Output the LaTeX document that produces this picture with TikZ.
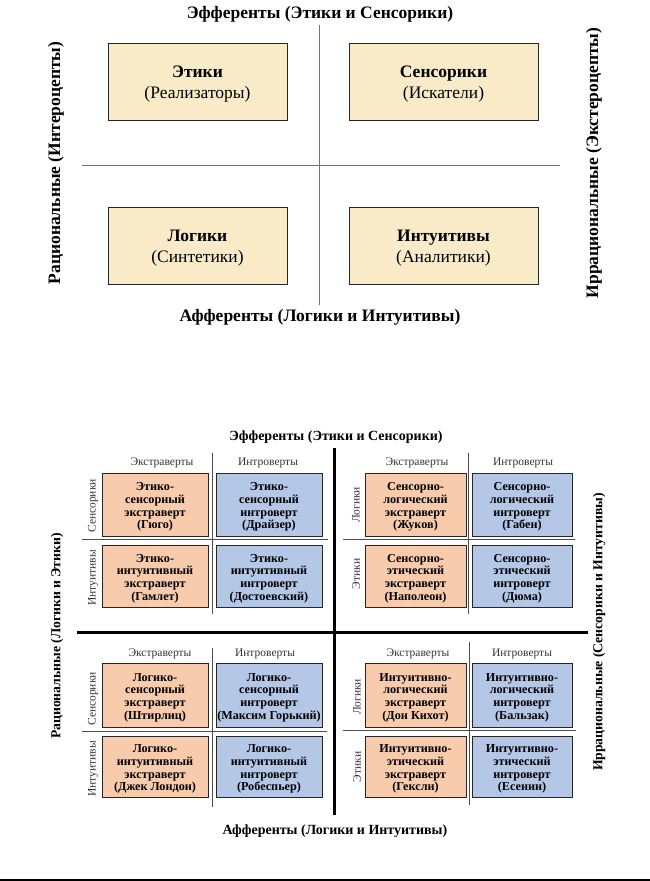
\documentclass[tikz,border=0pt]{standalone}
\usepackage{fontspec}
\setmainfont{Liberation Serif}
\definecolor{tan}{HTML}{FAEBC8}
\definecolor{ora}{HTML}{F8CBAD}
\definecolor{blu}{HTML}{B4C7E7}
\begin{document}
\begin{tikzpicture}[x=1pt,y=-1pt,
  bigbox/.style={draw=black!85,line width=0.8pt,fill=tan,minimum height=77pt,inner sep=0pt},
  bigtxt/.style={align=center,inner sep=0pt,yshift=-2.5pt,font=\fontsize{17.5}{21}\selectfont},
  bigtitle/.style={font=\bfseries\fontsize{17.5}{19}\selectfont,inner sep=0pt},
  tbox/.style={draw=black!85,line width=0.8pt,inner sep=0pt},
  obox/.style={tbox,fill=ora},
  bbox/.style={tbox,fill=blu},
  btxt/.style={align=center,inner sep=0pt,yshift=-2.5pt,font=\bfseries\fontsize{12.2}{12.8}\selectfont},
  hdr/.style={font=\fontsize{11.5}{12}\selectfont,text=black!80,inner sep=0pt},
  smtitle/.style={font=\bfseries\fontsize{14}{15}\selectfont,inner sep=0pt},
  sidetitle/.style={font=\bfseries\fontsize{13.7}{15}\selectfont,inner sep=0pt},
  thin/.style={draw=black!55,line width=0.8pt},
  thick/.style={draw=black,line width=2.4pt}]
\useasboundingbox (0,0) rectangle (650,881);
% ---------- top diagram ----------
\node[bigtitle] (t1) at (320,14) {Эфференты (Этики и Сенсорики)};
\node[bigtitle] (b1) at (320,317) {Афференты (Логики и Интуитивы)};
\node[bigtitle,rotate=90] (l1) at (56,163) {Рациональные (Интероцепты)};
\node[bigtitle,rotate=90] (r1) at (594,163) {Иррациональные (Экстероцепты)};
\coordinate (v1a) at (319,25); \coordinate (v1b) at (319,305);
\coordinate (h1a) at (82,165); \coordinate (h1b) at (560,165);
\draw[thin] (v1a) -- (v1b);
\draw[thin] (h1a) -- (h1b);
\node[bigbox,minimum width=179pt,label={[bigtxt]center:{\textbf{Этики}\\(Реализаторы)}}] (eth) at (197.5,81.5) {};
\node[bigbox,minimum width=189pt,label={[bigtxt]center:{\textbf{Сенсорики}\\(Искатели)}}] (sen) at (443.5,81.5) {};
\node[bigbox,minimum width=179pt,label={[bigtxt]center:{\textbf{Логики}\\(Синтетики)}}] (log) at (197.5,245.5) {};
\node[bigbox,minimum width=189pt,label={[bigtxt]center:{\textbf{Интуитивы}\\(Аналитики)}}] (int) at (443.5,245.5) {};
% ---------- bottom diagram ----------
\node[smtitle] (t2) at (336,437) {Эфференты (Этики и Сенсорики)};
\node[smtitle] (b2) at (335,831) {Афференты (Логики и Интуитивы)};
\node[sidetitle,rotate=90] (l2) at (57,636) {Рациональные (Логики и Этики)};
\node[sidetitle,rotate=90] (r2) at (599,632) {Иррациональные (Сенсорики и Интуитивы)};
\coordinate (v2a) at (334.5,448); \coordinate (v2b) at (334.5,815);
\coordinate (h2a) at (77,632.5); \coordinate (h2b) at (588,632.5);
\draw[thick] (v2a) -- (v2b);
\draw[thick] (h2a) -- (h2b);
% thin dividers
\coordinate (q1v1) at (212.5,453); \coordinate (q1v2) at (212.5,614);
\coordinate (q1h1) at (82,539.5); \coordinate (q1h2) at (328,539.5);
\coordinate (q2v1) at (468.5,453); \coordinate (q2v2) at (468.5,614);
\coordinate (q2h1) at (343,539.5); \coordinate (q2h2) at (575,539.5);
\coordinate (q3v1) at (212.5,648); \coordinate (q3v2) at (212.5,807);
\coordinate (q3h1) at (82,731); \coordinate (q3h2) at (327,731);
\coordinate (q4v1) at (469,642); \coordinate (q4v2) at (469,805);
\coordinate (q4h1) at (343,730.5); \coordinate (q4h2) at (576,730.5);
\foreach \q in {q1,q2,q3,q4}{
  \draw[thin,draw=black!70] (\q v1) -- (\q v2);
  \draw[thin,draw=black!70] (\q h1) -- (\q h2);
}
% headers
\node[hdr] (e1) at (162,463) {Экстраверты};
\node[hdr] (i1) at (268,463) {Интроверты};
\node[hdr] (e2) at (417,463) {Экстраверты};
\node[hdr] (i2) at (523,463) {Интроверты};
\node[hdr] (e3) at (160,654) {Экстраверты};
\node[hdr] (i3) at (265,654) {Интроверты};
\node[hdr] (e4) at (418,654) {Экстраверты};
\node[hdr] (i4) at (522,654) {Интроверты};
% row labels
\node[hdr,rotate=90] (s1) at (93,506) {Сенсорики};
\node[hdr,rotate=90] (n1) at (93,578) {Интуитивы};
\node[hdr,rotate=90] (g2) at (356,505) {Логики};
\node[hdr,rotate=90] (k2) at (356,574) {Этики};
\node[hdr,rotate=90] (s3) at (93,699) {Сенсорики};
\node[hdr,rotate=90] (n3) at (93,769) {Интуитивы};
\node[hdr,rotate=90] (g4) at (357,697) {Логики};
\node[hdr,rotate=90] (k4) at (357,767) {Этики};
% boxes quadrant 1
\node[obox,minimum width=106pt,minimum height=63pt,label={[btxt]center:{Этико-\\сенсорный\\экстраверт\\(Гюго)}}] (ese) at (155,504.5) {};
\node[bbox,minimum width=106pt,minimum height=63pt,label={[btxt]center:{Этико-\\сенсорный\\интроверт\\(Драйзер)}}] (esi) at (269,504.5) {};
\node[obox,minimum width=106pt,minimum height=62pt,label={[btxt]center:{Этико-\\интуитивный\\экстраверт\\(Гамлет)}}] (eie) at (155,576) {};
\node[bbox,minimum width=106pt,minimum height=62pt,label={[btxt]center:{Этико-\\интуитивный\\интроверт\\(Достоевский)}}] (eii) at (269,576) {};
% quadrant 2
\node[obox,minimum width=101pt,minimum height=63pt,label={[btxt]center:{Сенсорно-\\логический\\экстраверт\\(Жуков)}}] (sle) at (415.5,504.5) {};
\node[bbox,minimum width=100pt,minimum height=63pt,label={[btxt]center:{Сенсорно-\\логический\\интроверт\\(Габен)}}] (sli) at (522,504.5) {};
\node[obox,minimum width=101pt,minimum height=62pt,label={[btxt]center:{Сенсорно-\\этический\\экстраверт\\(Наполеон)}}] (see) at (415.5,576) {};
\node[bbox,minimum width=100pt,minimum height=62pt,label={[btxt]center:{Сенсорно-\\этический\\интроверт\\(Дюма)}}] (sei) at (522,576) {};
% quadrant 3
\node[obox,minimum width=106pt,minimum height=64pt,label={[btxt]center:{Логико-\\сенсорный\\экстраверт\\(Штирлиц)}}] (lse) at (155,695) {};
\node[bbox,minimum width=106pt,minimum height=64pt,label={[btxt]center:{Логико-\\сенсорный\\интроверт\\(Максим Горький)}}] (lsi) at (269,695) {};
\node[obox,minimum width=106pt,minimum height=61pt,label={[btxt]center:{Логико-\\интуитивный\\экстраверт\\(Джек Лондон)}}] (lie) at (155,766.5) {};
\node[bbox,minimum width=106pt,minimum height=61pt,label={[btxt]center:{Логико-\\интуитивный\\интроверт\\(Робеспьер)}}] (lii) at (269,766.5) {};
% quadrant 4
\node[obox,minimum width=101pt,minimum height=64pt,label={[btxt]center:{Интуитивно-\\логический\\экстраверт\\(Дон Кихот)}}] (ile) at (415.5,695) {};
\node[bbox,minimum width=100pt,minimum height=64pt,label={[btxt]center:{Интуитивно-\\логический\\интроверт\\(Бальзак)}}] (ili) at (522,695) {};
\node[obox,minimum width=101pt,minimum height=61pt,label={[btxt]center:{Интуитивно-\\этический\\экстраверт\\(Гексли)}}] (iee) at (415.5,766.5) {};
\node[bbox,minimum width=100pt,minimum height=61pt,label={[btxt]center:{Интуитивно-\\этический\\интроверт\\(Есенин)}}] (iei) at (522,766.5) {};
% bottom rule
\coordinate (ra) at (0,880); \coordinate (rb) at (650,880);
\draw[line width=1.5pt] (ra) -- (rb);
\end{tikzpicture}
\end{document}
